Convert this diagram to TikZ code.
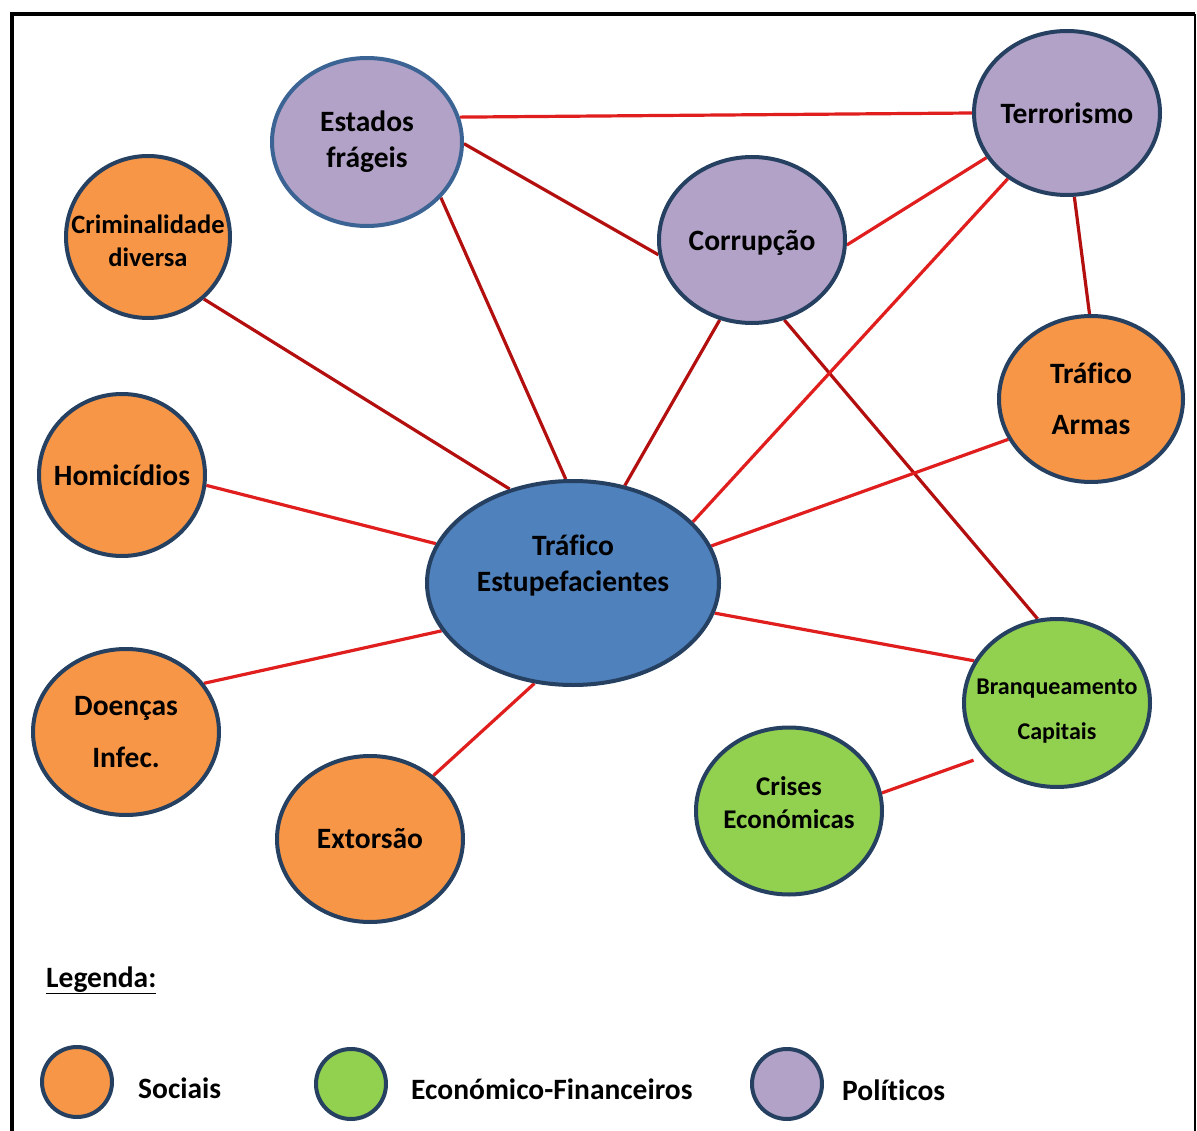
\documentclass[tikz,border=0pt]{standalone}
\usepackage{fontspec}
\setmainfont{Carlito}[Ligatures=NoCommon]
\usetikzlibrary{shapes.geometric,backgrounds}
\definecolor{orng}{HTML}{F79646}
\definecolor{grn}{HTML}{92D050}
\definecolor{purp}{HTML}{B2A2C7}
\definecolor{blu}{HTML}{4F81BD}
\definecolor{navy}{HTML}{254061}
\definecolor{steel}{HTML}{3B6494}
\definecolor{dred}{HTML}{B40F0F}
\definecolor{bred}{HTML}{E01E1E}
\tikzset{
  bub/.style={ellipse, draw=navy, line width=4pt, inner sep=0pt},
  sz/.style 2 args={minimum width=#1pt, minimum height=#2pt},
  txt/.style={align=center, text=black, inner sep=0pt, font=\bfseries\fontsize{29.5}{36}\selectfont},
  dk/.style={draw=dred, line width=3.2pt},
  br/.style={draw=bred, line width=3.2pt},
  leg/.style={font=\bfseries\fontsize{29.5}{34}\selectfont, text=black, inner sep=0pt},
}
\begin{document}
\begin{tikzpicture}[x=1pt,y=-1pt]
\useasboundingbox (0,0) rectangle (1197,1131);
% nodes
\node[bub, fill=purp, draw=steel, sz={190}{168},
  label={[txt]center:Estados\\frágeis}] (est) at (367,142) {};
\node[bub, fill=purp, sz={186}{164},
  label={[txt]center:Terrorismo}] (ter) at (1067,113) {};
\node[bub, fill=purp, sz={186}{166},
  label={[txt, yshift=-3pt]center:Corrupção}] (cor) at (752,240) {};
\node[bub, fill=orng, sz={164}{162},
  label={[txt, font=\bfseries\fontsize{26.5}{33}\selectfont, yshift=-4pt]center:Criminalidade\\diversa}] (crim) at (148,237) {};
\node[bub, fill=orng, sz={184}{166},
  label={[txt, font=\bfseries\fontsize{29.5}{51}\selectfont]center:Tráfico\\Armas}] (arm) at (1091,399) {};
\node[bub, fill=orng, sz={166}{162},
  label={[txt]center:Homicídios}] (hom) at (122,475) {};
\node[bub, fill=blu, sz={292}{204},
  label={[txt, yshift=18pt]center:Tráfico\\Estupefacientes}] (te) at (573,583) {};
\node[bub, fill=orng, sz={186}{166},
  label={[txt, font=\bfseries\fontsize{29.5}{52}\selectfont]center:Doenças\\Infec.}] (doe) at (126,732) {};
\node[bub, fill=orng, sz={186}{166},
  label={[txt]center:Extorsão}] (ext) at (370,839) {};
\node[bub, fill=grn, sz={186}{168},
  label={[txt, font=\bfseries\fontsize{24}{45}\selectfont, yshift=-8pt]center:Branqueamento\\Capitais}] (bra) at (1057,703) {};
\node[bub, fill=grn, sz={186}{167},
  label={[txt, font=\bfseries\fontsize{27}{33}\selectfont, yshift=8pt]center:Crises\\Económicas}] (cri) at (789,811) {};
% connectors
\begin{scope}[on background layer]
\fill[white] (0,0) rectangle (1197,1131);
\draw[dk] (est.-37) -- (te.94);
\draw[dk] (est.-1) -- (cor.189);
\draw[dk] (cor.-112) -- (te.62);
\draw[dk] (cor.-68) -- (bra.103);
\draw[dk] (crim.-48) -- (te.124);
\draw[dk] (ter.-85) -- (arm.91);
\draw[br] (est.15) -- (ter.180);
\draw[br] (ter.209) -- (cor.-3);
\draw[br] (ter.228) -- (te.27);
\draw[br] (hom.-7) -- (te.164);
\draw[br] (doe.32) -- (te.200);
\draw[br] (ext.45) -- (te.-111);
\draw[br] (te.15) -- (arm.206);
\draw[br] (te.-12) -- (bra.153);
\draw[br, shorten >=10pt] (cri.11) -- (bra.216);
\end{scope}
% frame
\draw[line width=4.5pt] (12,1140) -- (12,14) -- (1195,14);
\draw[line width=2.5pt] (1195,14) -- (1195,1140);
% legend
\node[leg, anchor=base west] (legt) at (46,987) {\underline{Legenda:}};
\node[bub, fill=orng, sz={70}{70}] (l1) at (77,1082) {};
\node[leg, anchor=base west] (l1t) at (138,1098) {Sociais};
\node[bub, fill=grn, sz={70}{70}] (l2) at (351,1084) {};
\node[leg, anchor=base west] (l2t) at (411,1099) {Económico-Financeiros};
\node[bub, fill=purp, sz={70}{70}] (l3) at (787,1084) {};
\node[leg, anchor=base west] (l3t) at (842,1100) {Políticos};
\end{tikzpicture}
\end{document}
